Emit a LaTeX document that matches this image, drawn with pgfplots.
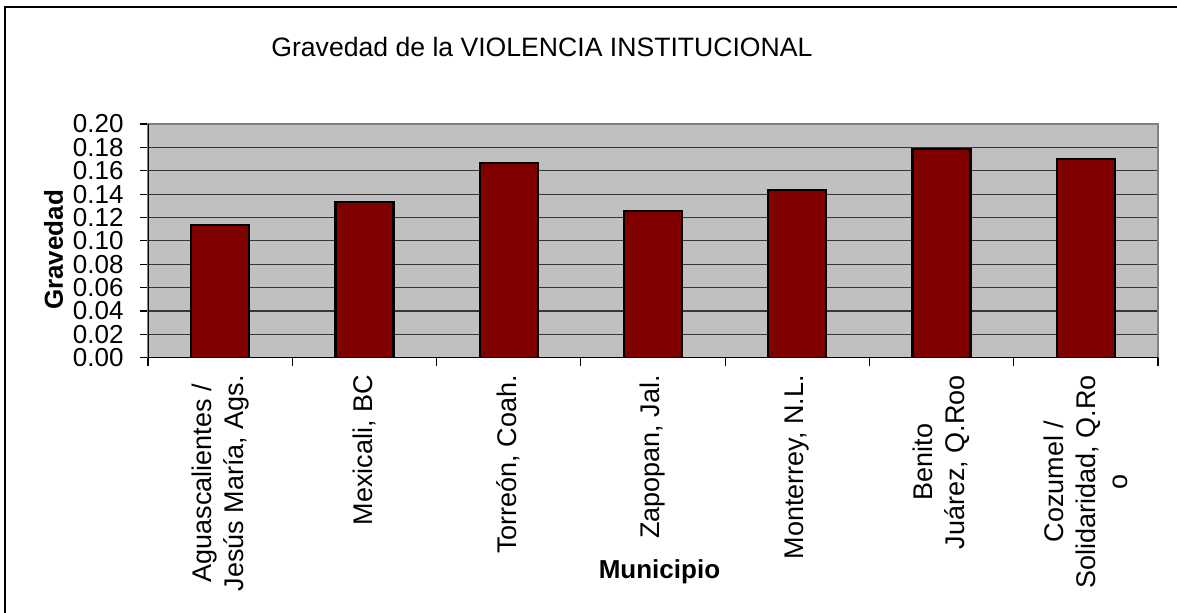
\documentclass[border=0pt]{standalone}
\usepackage{pgfplots}
\pgfplotsset{compat=1.18}
\usepackage{fontspec}
\setmainfont{Liberation Sans}
\definecolor{barred}{RGB}{128,0,0}
\definecolor{plotbg}{RGB}{192,192,192}
\definecolor{bordergray}{RGB}{128,128,128}
\definecolor{gridc}{RGB}{55,55,55}
\begin{document}
\begin{tikzpicture}
\useasboundingbox (0,0) rectangle (588.5pt,-306.5pt);
\fill[white] (0,0) rectangle (588.5pt,-306.5pt);
\draw[line width=1pt] (2.25pt,-306.5pt) -- (2.25pt,-3.5pt) -- (588.5pt,-3.5pt);
\begin{axis}[
  at={(74pt,-178.85pt)}, anchor=south west,
  width=505pt, height=116.85pt, scale only axis,
  xmin=-0.5, xmax=6.5, ymin=0, ymax=0.2,
  axis background/.style={fill=plotbg},
  axis line style={draw=bordergray, line width=0.6pt},
  ytick={0,0.02,0.04,0.06,0.08,0.1,0.12,0.14,0.16,0.18,0.2},
  /pgf/number format/fixed, /pgf/number format/fixed zerofill,
  /pgf/number format/precision=2, /pgf/number format/assume math mode=true,
  yticklabel style={font=\fontsize{13}{15}\selectfont, inner xsep=0pt, xshift=-8pt},
  ymajorgrids, major grid style={draw=gridc, line width=0.6pt},
  tick align=outside, major tick length=4pt,
  tick style={draw=black, line width=0.6pt},
  xtick pos=bottom, ytick pos=left,
  xtick={-0.5,0.5,1.5,2.5,3.5,4.5,5.5,6.5},
  xticklabels={},
  extra x ticks={0,1,2,3,4,5,6},
  extra x tick style={major tick length=0pt, grid=none},
  extra x tick labels={{Aguascalientes /\\Jesús María, Ags.},{Mexicali, BC},{Torreón, Coah.},{Zapopan, Jal.},{Monterrey, N.L.},{Benito\\Juárez, Q.Roo},{Cozumel /\\Solidaridad, Q.Ro\\o}},
  xticklabel style={rotate=90, anchor=east, align=center, inner xsep=8.5pt, inner ysep=0pt, font=\fontsize{13.5}{16}\selectfont},
  title={Gravedad de la VIOLENCIA INSTITUCIONAL},
  title style={at={(0.39,1.239)}, anchor=base, font=\fontsize{13.3}{16}\selectfont},
  xlabel={Municipio},
  xlabel style={at={(0.5064,-0.943)}, anchor=base, font=\fontsize{13}{15}\selectfont\bfseries},
  ylabel={Gravedad},
  ylabel style={at={(-0.0936,0.461)}, anchor=center, font=\fontsize{13}{15}\selectfont\bfseries},
]
\addplot[ybar, bar width=29pt, fill=barred, draw=black, line width=1.1pt] coordinates {
  (0,0.1136) (1,0.1335) (2,0.1664) (3,0.1258) (4,0.1433) (5,0.1789) (6,0.1703)
};
\draw[black, line width=0.6pt] (rel axis cs:0,0) -- (rel axis cs:0,1);
\draw[black, line width=0.6pt] (rel axis cs:0,0) -- (rel axis cs:1,0);
\end{axis}
\end{tikzpicture}
\end{document}
